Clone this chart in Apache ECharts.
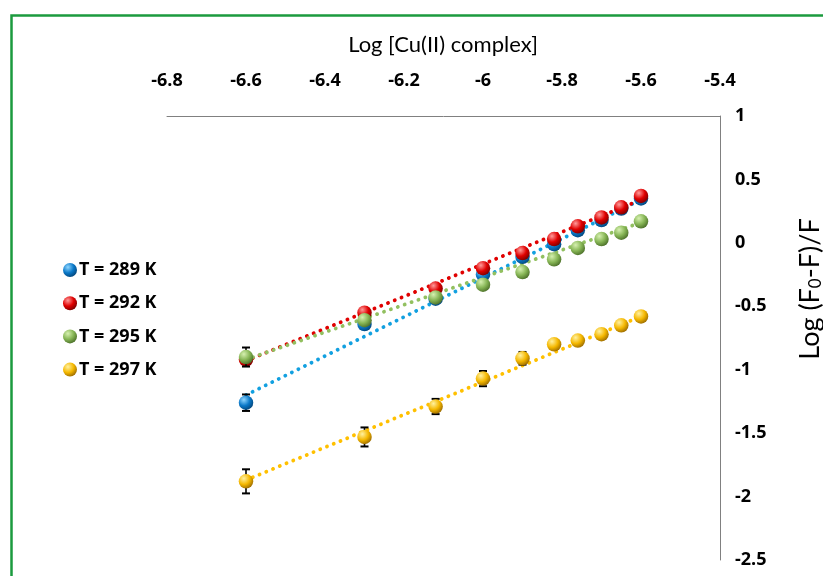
<!DOCTYPE html>
<html>
<head>
<meta charset="utf-8">
<script src="https://cdn.jsdelivr.net/npm/echarts@6/dist/echarts.min.js"></script>
<style>
html,body{margin:0;padding:0;background:#fff;}
#chart{width:823px;height:576px;}
</style>
</head>
<body>
<div id="chart"></div>
<script>
// ---- data ----
var xValues = [-6.60, -6.30, -6.12, -6.00, -5.90, -5.82, -5.76, -5.70, -5.65, -5.60];
var seriesNames = ['T = 289 K', 'T = 292 K', 'T = 295 K', 'T = 297 K'];
var t289 = [-1.26, -0.64, -0.44, -0.25, -0.11, -0.01, 0.10, 0.18, 0.27, 0.35];
var t292 = [-0.92, -0.55, -0.36, -0.20, -0.08, 0.03, 0.13, 0.20, 0.28, 0.37];
var t295 = [-0.90, -0.61, -0.43, -0.33, -0.23, -0.13, -0.04, 0.03, 0.08, 0.17];
var t297 = [-1.88, -1.53, -1.29, -1.07, -0.91, -0.80, -0.77, -0.72, -0.65, -0.58];
var e289 = [0.065, 0.03, 0.02, 0.02, 0.02, 0.02, 0.02, 0.02, 0.02, 0.02];
var e292 = [0.03, 0.03, 0.02, 0.02, 0.02, 0.02, 0.02, 0.02, 0.02, 0.02];
var e295 = [0.075, 0.03, 0.02, 0.02, 0.02, 0.02, 0.02, 0.02, 0.02, 0.02];
var e297 = [0.095, 0.075, 0.06, 0.06, 0.05, 0.03, 0.03, 0.025, 0.025, 0.02];
// trendline endpoints (x, y)
var trendX = [-6.6, -5.6];
var trend289 = [-1.20, 0.34];
var trend292 = [-0.93, 0.34];
var trend295 = [-0.92, 0.16];
var trend297 = [-1.87, -0.58];
// axis ticks
var xMin = -6.8, xMax = -5.4, xStep = 0.2;
var yMin = -2.5, yMax = 1, yStep = 0.5;

var values = [t289, t292, t295, t297];
var errors = [e289, e292, e295, e297];
var trends = [trend289, trend292, trend295, trend297];

var markerColors = [
  ['#8fd6ff', '#0a78c8', '#03457a'],
  ['#ff9a9a', '#e00000', '#7a0000'],
  ['#d6f0b0', '#86b555', '#4a6e28'],
  ['#fff1a0', '#f5b800', '#9a6a00']
];
var lineColors = ['#12a0e0', '#e00000', '#92c060', '#ffc000'];

function grad(c) {
  return {
    type: 'radial', x: 0.35, y: 0.3, r: 0.75,
    colorStops: [
      {offset: 0, color: c[0]},
      {offset: 0.55, color: c[1]},
      {offset: 1, color: c[2]}
    ]
  };
}

var font = 'Lato, "Open Sans", "Liberation Sans", sans-serif';
var boldFont = '"Open Sans", "Liberation Sans", sans-serif';
var series = [];

// trendlines first (below markers)
for (var i = 0; i < 4; i++) {
  series.push({
    type: 'line',
    name: seriesNames[i] + ' fit',
    data: [[trendX[0], trends[i][0]], [trendX[1], trends[i][1]]],
    symbol: 'none',
    silent: true,
    z: 1,
    lineStyle: {color: lineColors[i], width: 3.8, type: [0.1, 7.2], cap: 'round'}
  });
}

for (var s = 0; s < 4; s++) {
  (function (k) {
    var errData = xValues.map(function (x, j) { return [x, values[k][j], errors[k][j]]; });
    series.push({
      type: 'custom',
      name: seriesNames[k] + ' err',
      data: errData,
      z: 2 + k * 2,
      silent: true,
      renderItem: function (params, api) {
        var x = api.value(0), y = api.value(1), e = api.value(2);
        var top = api.coord([x, y + e]);
        var bot = api.coord([x, y - e]);
        var w = 4;
        var st = {stroke: '#000', lineWidth: 1.6};
        return {
          type: 'group',
          children: [
            {type: 'line', shape: {x1: top[0], y1: top[1], x2: bot[0], y2: bot[1]}, style: st},
            {type: 'line', shape: {x1: top[0] - w, y1: top[1], x2: top[0] + w, y2: top[1]}, style: {stroke: '#000', lineWidth: 2}},
            {type: 'line', shape: {x1: bot[0] - w, y1: bot[1], x2: bot[0] + w, y2: bot[1]}, style: {stroke: '#000', lineWidth: 2}}
          ]
        };
      }
    });
    series.push({
      type: 'scatter',
      name: seriesNames[k],
      data: xValues.map(function (x, j) { return [x, values[k][j]]; }),
      symbol: 'circle',
      symbolSize: 14.5,
      z: 3 + k * 2,
      itemStyle: {color: grad(markerColors[k]), opacity: 1}
    });
  })(s);
}

var chart = echarts.init(document.getElementById('chart'), null, {renderer: 'canvas'});
chart.setOption({
  animation: false,
  backgroundColor: '#fff',
  grid: {left: 167, right: 103, top: 116, bottom: 16, containLabel: false},
  xAxis: {
    type: 'value', position: 'top', min: xMin, max: xMax, interval: xStep,
    axisLine: {show: true, onZero: false, lineStyle: {color: '#808080', width: 1}},
    axisTick: {show: false},
    splitLine: {show: false},
    axisLabel: {color: '#000', fontSize: 18, fontWeight: 'bold', fontFamily: boldFont, margin: 26}
  },
  yAxis: {
    type: 'value', position: 'right', min: yMin, max: yMax, interval: yStep,
    axisLine: {show: true, onZero: false, lineStyle: {color: '#808080', width: 1}},
    axisTick: {show: false},
    splitLine: {show: false},
    axisLabel: {color: '#000', fontSize: 18, fontWeight: 'bold', fontFamily: boldFont, margin: 15}
  },
  legend: {
    data: seriesNames.map(function (n, i) { return {name: n, icon: 'circle', itemStyle: {color: grad(markerColors[i])}}; }),
    orient: 'vertical', left: 58, top: 256,
    itemWidth: 14, itemHeight: 14, itemGap: 15.2,
    textStyle: {color: '#000', fontSize: 18, fontWeight: 'bold', fontFamily: boldFont, padding: [0, 0, 0, -3]},
    selectedMode: false
  },
  graphic: [
    {type: 'rect', left: 9, top: 13, shape: {width: 830, height: 620}, style: {fill: 'none', stroke: '#1b9a3e', lineWidth: 2.5}, silent: true},
    {type: 'text', x: 443, y: 45, style: {text: 'Log [Cu(II) complex]', fill: '#000', font: 'normal 22px ' + font, textAlign: 'center', textVerticalAlign: 'middle'}},
    {type: 'text', x: 810, y: 289, rotation: Math.PI / 2,
      style: {text: 'Log (F{sub|0}-F)/F', fill: '#000', font: 'normal 27px ' + font, textAlign: 'center', textVerticalAlign: 'middle',
        rich: {sub: {fontSize: 17, fontFamily: font, verticalAlign: 'bottom', padding: [11, 0, 0, 0], fill: '#000'}}}}
  ],
  series: series
});
</script>
</body>
</html>
